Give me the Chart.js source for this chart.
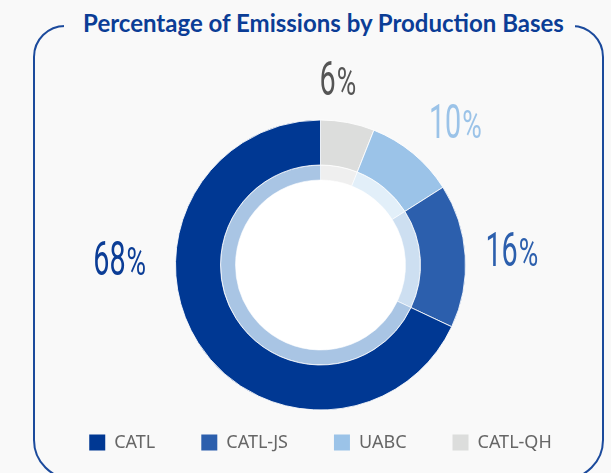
<!DOCTYPE html>
<html>
<head>
<meta charset="utf-8">
<script src="https://cdn.jsdelivr.net/npm/chart.js@4.4.1/dist/chart.umd.min.js"></script>
<style>
  html, body { margin: 0; padding: 0; background: #f9f9f9; }
  body { width: 611px; height: 473px; position: relative; overflow: hidden; }
  #frame {
    position: absolute; left: 33px; top: 25px; width: 571px; height: 455px;
    box-sizing: border-box; border: 2px solid #1b4a9c;
    border-radius: 32px 32px 40px 40px;
  }
  #title {
    position: absolute; left: 64px; width: 511px; top: 8px; height: 30px;
    line-height: 30px; text-align: center; background: #f9f9f9;
    font-family: Lato, "Noto Sans", sans-serif; font-weight: 700; font-size: 24px;
    color: #0b3d96; white-space: nowrap; padding-left: 8px; box-sizing: border-box;
  }
  #chart { position: absolute; left: 0; top: 0; }
</style>
</head>
<body>
<div id="frame"></div>
<div id="title">Percentage of Emissions by Production Bases</div>
<canvas id="chart" width="611" height="473"></canvas>
<script>
// production bases, in legend order
const categories = ['CATL', 'CATL-JS', 'UABC', 'CATL-QH'];
const shares = [68, 16, 10, 6];

const outerColors = ['#003893', '#2c5fad', '#9bc3e8', '#dcdddc'];
const innerColors = ['#a9c5e4', '#cddff1', '#e2eff9', '#efefef'];
const labelColors = ['#0b3d96', '#2c5fad', '#9bc3e8', '#555555'];

// slices run clockwise from the top starting with the smallest, so reverse
const order = categories.map((c, i) => i).reverse();
const pick = arr => order.map(i => arr[i]);

// where each percentage sits: angle from 12 o'clock (deg), distance from centre (px)
const labelAnchors = {
  'CATL':    [272, 201],
  'CATL-JS': [85.2, 192],
  'UABC':    [43.2, 197],
  'CATL-QH': [5.3, 188]
};

const holePlugin = {
  id: 'hole',
  beforeDatasetsDraw(chart) {
    const arc = chart.getDatasetMeta(1).data[0];
    if (!arc) return;
    const ctx = chart.ctx;
    ctx.save();
    ctx.beginPath();
    ctx.arc(arc.x, arc.y, arc.innerRadius, 0, Math.PI * 2);
    ctx.fillStyle = '#ffffff';
    ctx.fill();
    ctx.restore();
  }
};

const pctPlugin = {
  id: 'pct',
  afterDatasetsDraw(chart) {
    const ctx = chart.ctx;
    const meta = chart.getDatasetMeta(0);
    const ds = chart.data.datasets[0];
    meta.data.forEach((arc, j) => {
      const cat = chart.data.labels[j];
      const [deg, r] = labelAnchors[cat];
      const a = deg * Math.PI / 180;
      const ax = arc.x + r * Math.sin(a);
      const ay = arc.y - r * Math.cos(a);
      const num = String(ds.data[j]);
      const sx = 0.6, psx = 0.7;
      ctx.save();
      ctx.font = '400 48px Roboto';
      const wNum = ctx.measureText(num).width * sx;
      ctx.font = '400 38px Roboto';
      const wPct = ctx.measureText('%').width * psx;
      const x0 = ax - (wNum + 1 + wPct) / 2;
      const base = ay + 17;
      ctx.fillStyle = labelColors[categories.indexOf(cat)];
      ctx.textBaseline = 'alphabetic';
      ctx.textAlign = 'left';
      ctx.save();
      ctx.translate(x0, base);
      ctx.scale(sx, 1);
      ctx.font = '400 48px Roboto';
      ctx.fillText(num, 0, 0);
      ctx.restore();
      ctx.save();
      ctx.translate(x0 + wNum + 1, base);
      ctx.scale(psx, 1);
      ctx.font = '400 38px Roboto';
      ctx.fillText('%', 0, 0);
      ctx.restore();
      ctx.restore();
    });
  }
};

new Chart(document.getElementById('chart'), {
  type: 'doughnut',
  data: {
    labels: pick(categories),
    datasets: [{
      data: pick(shares),
      backgroundColor: pick(outerColors),
      borderColor: 'rgba(255,255,255,0.85)',
      borderWidth: 1,
      weight: 3,
      clip: false
    }, {
      data: pick(shares),
      backgroundColor: pick(innerColors),
      borderColor: 'rgba(255,255,255,0.6)',
      borderWidth: 1,
      weight: 1,
      clip: false
    }]
  },
  options: {
    responsive: false,
    animation: false,
    events: [],
    radius: 145,
    cutout: '58.6%',
    layout: { padding: { top: 142.5, bottom: 11.5, left: 30, right: 0 } },
    plugins: {
      tooltip: { enabled: false },
      legend: {
        position: 'bottom',
        reverse: true,
        labels: {
          boxWidth: 16,
          boxHeight: 16,
          padding: 46,
          color: '#666666',
          font: { family: '"Noto Sans", sans-serif', size: 18 },
          generateLabels(chart) {
            const items = Chart.overrides.doughnut.plugins.legend.labels.generateLabels(chart);
            items.forEach(it => { it.lineWidth = 0; it.strokeStyle = 'rgba(0,0,0,0)'; });
            return items;
          }
        }
      }
    }
  },
  plugins: [holePlugin, pctPlugin]
});
</script>
</body>
</html>
